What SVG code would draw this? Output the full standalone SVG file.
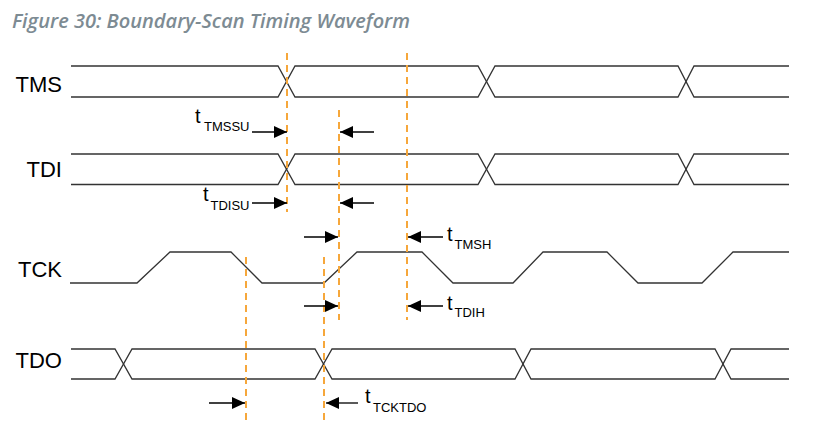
<svg xmlns="http://www.w3.org/2000/svg" width="825" height="426" viewBox="0 0 825 426">
<style>
.title{font-family:"Open Sans","Liberation Sans",sans-serif;font-style:italic;font-weight:600;font-size:20px;fill:#7d8b93}
.sig{font-family:"Liberation Sans",Arial,sans-serif;font-size:22px;fill:#000;text-anchor:end}
.lbl{font-family:"Liberation Sans",Arial,sans-serif;font-size:20px;fill:#000}
.sub{font-size:13px}
.wave{fill:none;stroke:#333;stroke-width:1.3}
.guide{fill:none;stroke:#f6a73b;stroke-width:2;stroke-dasharray:7 5}
.arr{fill:none;stroke:#000;stroke-width:1.3;marker-end:url(#ah)}
</style>
<defs>
<marker id="ah" markerUnits="userSpaceOnUse" markerWidth="14" markerHeight="13" refX="13" refY="6" orient="auto">
<path d="M0,0 L13,6 L0,12 Z" fill="#000"/>
</marker>
</defs>
<rect width="825" height="426" fill="#fff"/>
<text class="title" x="12" y="28">Figure 30: Boundary-Scan Timing Waveform</text>

<g id="TMS">
<text class="sig" x="62" y="92">TMS</text>
<path class="wave" d="M71,66 H278 L295,97 H478 L495,66 H678 L694,97 H789"/>
<path class="wave" d="M71,97 H278 L295,66 H478 L495,97 H678 L694,66 H789"/>
</g>
<g id="TDI">
<text class="sig" x="62" y="177">TDI</text>
<path class="wave" d="M71,154 H278 L295,184.5 H478 L495,154 H678 L694,184.5 H789"/>
<path class="wave" d="M71,184.5 H278 L295,154 H478 L495,184.5 H678 L694,154 H789"/>
</g>
<g id="TCK">
<text class="sig" x="62" y="277">TCK</text>
<path class="wave" d="M70,283 H137 L170,252 H231 L262,283 H324 L357,252 H422 L453,283 H513 L543,252 H607 L638,283 H702 L733,252 H789"/>
</g>
<g id="TDO">
<text class="sig" x="62" y="368">TDO</text>
<path class="wave" d="M71,349 H115 L132,379 H315 L332,349 H515 L531,379 H715 L731,349 H789"/>
<path class="wave" d="M71,379 H115 L132,349 H315 L332,379 H515 L531,349 H715 L731,379 H789"/>
</g>

<g id="guides">
<line class="guide" x1="287" y1="53" x2="287" y2="212"/>
<line class="guide" x1="339" y1="110" x2="339" y2="320"/>
<line class="guide" x1="407" y1="53" x2="407" y2="320"/>
<line class="guide" x1="246" y1="257" x2="246" y2="420"/>
<line class="guide" x1="324" y1="257" x2="324" y2="420"/>
</g>

<g id="connectors">
<path class="arr" d="M252,132 H287"/>
<path class="arr" d="M374,132 H340"/>
<path class="arr" d="M252,203 H287"/>
<path class="arr" d="M374,203 H340"/>
<path class="arr" d="M304,237 H338"/>
<path class="arr" d="M443,237 H408"/>
<path class="arr" d="M304,306 H338"/>
<path class="arr" d="M443,306 H408"/>
<path class="arr" d="M209,403 H245"/>
<path class="arr" d="M358,403 H326"/>
</g>

<g id="labels">
<text class="lbl" y="123"><tspan x="195">t</tspan><tspan class="sub" x="204" y="131">TMSSU</tspan></text>
<text class="lbl" y="201"><tspan x="203">t</tspan><tspan class="sub" x="210.5" y="210">TDISU</tspan></text>
<text class="lbl" y="241"><tspan x="447">t</tspan><tspan class="sub" x="454.5" y="249">TMSH</tspan></text>
<text class="lbl" y="310"><tspan x="447">t</tspan><tspan class="sub" x="454.5" y="317">TDIH</tspan></text>
<text class="lbl" y="403"><tspan x="365">t</tspan><tspan class="sub" x="373" y="412">TCKTDO</tspan></text>
</g>
</svg>
